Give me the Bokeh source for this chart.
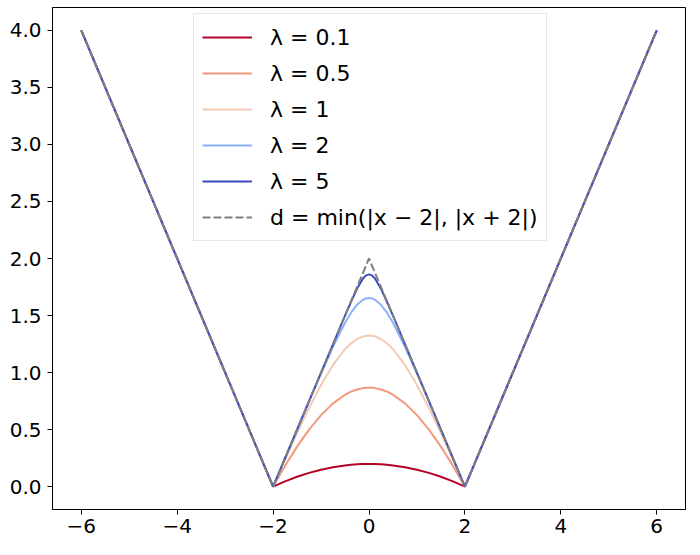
from bokeh.plotting import figure
from bokeh.models import Range1d, FixedTicker, CustomJSTickFormatter, Legend, LegendItem
from bokeh.embed import file_html
from bokeh.resources import INLINE

x_vals = [-6, -2, -1.75, -1.5, -1.25, -1, -0.75, -0.5, -0.375, -0.25, -0.125, -0.0625, 0,
          0.0625, 0.125, 0.25, 0.375, 0.5, 0.75, 1, 1.25, 1.5, 1.75, 2, 6]

lam_labels = ["λ = 0.1", "λ = 0.5", "λ = 1", "λ = 2", "λ = 5"]

y_l01 = [4.0, 0.0, 0.046, 0.087, 0.121, 0.149, 0.171, 0.186, 0.192, 0.196, 0.198, 0.199, 0.199,
         0.199, 0.198, 0.196, 0.192, 0.186, 0.171, 0.149, 0.121, 0.087, 0.046, 0.0, 4.0]
y_l05 = [4.0, 0.0, 0.183, 0.351, 0.500, 0.627, 0.730, 0.806, 0.833, 0.852, 0.864, 0.867, 0.868,
         0.867, 0.864, 0.852, 0.833, 0.806, 0.730, 0.627, 0.500, 0.351, 0.183, 0.0, 4.0]
y_l1 = [4.0, 0.0, 0.238, 0.470, 0.689, 0.891, 1.067, 1.205, 1.256, 1.294, 1.317, 1.323, 1.325,
        1.323, 1.317, 1.294, 1.256, 1.205, 1.067, 0.891, 0.689, 0.470, 0.238, 0.0, 4.0]
y_l2 = [4.0, 0.0, 0.250, 0.499, 0.747, 0.991, 1.226, 1.437, 1.525, 1.594, 1.638, 1.650, 1.654,
        1.650, 1.638, 1.594, 1.525, 1.437, 1.226, 0.991, 0.747, 0.499, 0.250, 0.0, 4.0]
y_l5 = [4.0, 0.0, 0.25, 0.5, 0.75, 1.0, 1.250, 1.499, 1.620, 1.734, 1.825, 1.852, 1.861,
        1.852, 1.825, 1.734, 1.620, 1.499, 1.250, 1.0, 0.75, 0.5, 0.25, 0.0, 4.0]

# reference distance d = min(|x-2|, |x+2|)
d_x = [-6, -2, 0, 2, 6]
d_y = [4, 0, 2, 0, 4]
d_label = "d = min(|x − 2|, |x + 2|)"

colors = ["#b40426", "#f4987a", "#f2cbb7", "#8db0fe", "#3b4cc0"]

x_ticks = [-6, -4, -2, 0, 2, 4, 6]
y_ticks = [0.0, 0.5, 1.0, 1.5, 2.0, 2.5, 3.0, 3.5, 4.0]

p = figure(width=691, height=546, output_backend="svg", toolbar_location=None,
           x_range=Range1d(-6.6, 6.6), y_range=Range1d(-0.2, 4.2),
           min_border=0, min_border_left=52, min_border_right=6,
           min_border_top=7, min_border_bottom=37)

p.xgrid.visible = False
p.ygrid.visible = False
p.outline_line_color = "black"
p.outline_line_width = 1
p.background_fill_color = "white"
p.border_fill_color = "white"

items = []
series = [y_l01, y_l05, y_l1, y_l2, y_l5]
for ys, c, lab in zip(series, colors, lam_labels):
    r = p.line(x_vals, ys, line_color=c, line_width=2)
    items.append(LegendItem(label=lab, renderers=[r]))

rd = p.line(d_x, d_y, line_color="#7f7f7f", line_width=2, line_dash="8 3")
items.append(LegendItem(label=d_label, renderers=[rd]))

legend = Legend(items=items, location=(141, 268),
                label_text_font="DejaVu Sans", label_text_font_size="22px",
                label_text_color="black",
                glyph_width=50, glyph_height=30, label_height=30,
                spacing=6, padding=8, margin=0, label_standoff=18,
                border_line_color="#d0d0d0", border_line_width=1,
                background_fill_color="white", background_fill_alpha=0.8)
p.add_layout(legend, "center")

for ax in (p.xaxis[0], p.yaxis[0]):
    ax.axis_line_color = "black"
    ax.axis_line_width = 1
    ax.major_tick_line_color = "black"
    ax.major_tick_out = 5
    ax.major_tick_in = 0
    ax.minor_tick_out = 0
    ax.minor_tick_in = 0
    ax.major_label_text_font = "DejaVu Sans"
    ax.major_label_text_font_size = "20px"
    ax.major_label_text_color = "black"

p.xaxis[0].ticker = FixedTicker(ticks=x_ticks)
p.yaxis[0].ticker = FixedTicker(ticks=y_ticks)
p.xaxis[0].formatter = CustomJSTickFormatter(code="return tick.toFixed(0).replace('-', '\u2212');")
p.yaxis[0].formatter = CustomJSTickFormatter(code="return tick.toFixed(1);")
p.xaxis[0].major_label_standoff = 4
p.yaxis[0].major_label_standoff = 6

open("out.html", "w").write(file_html(p, INLINE))
